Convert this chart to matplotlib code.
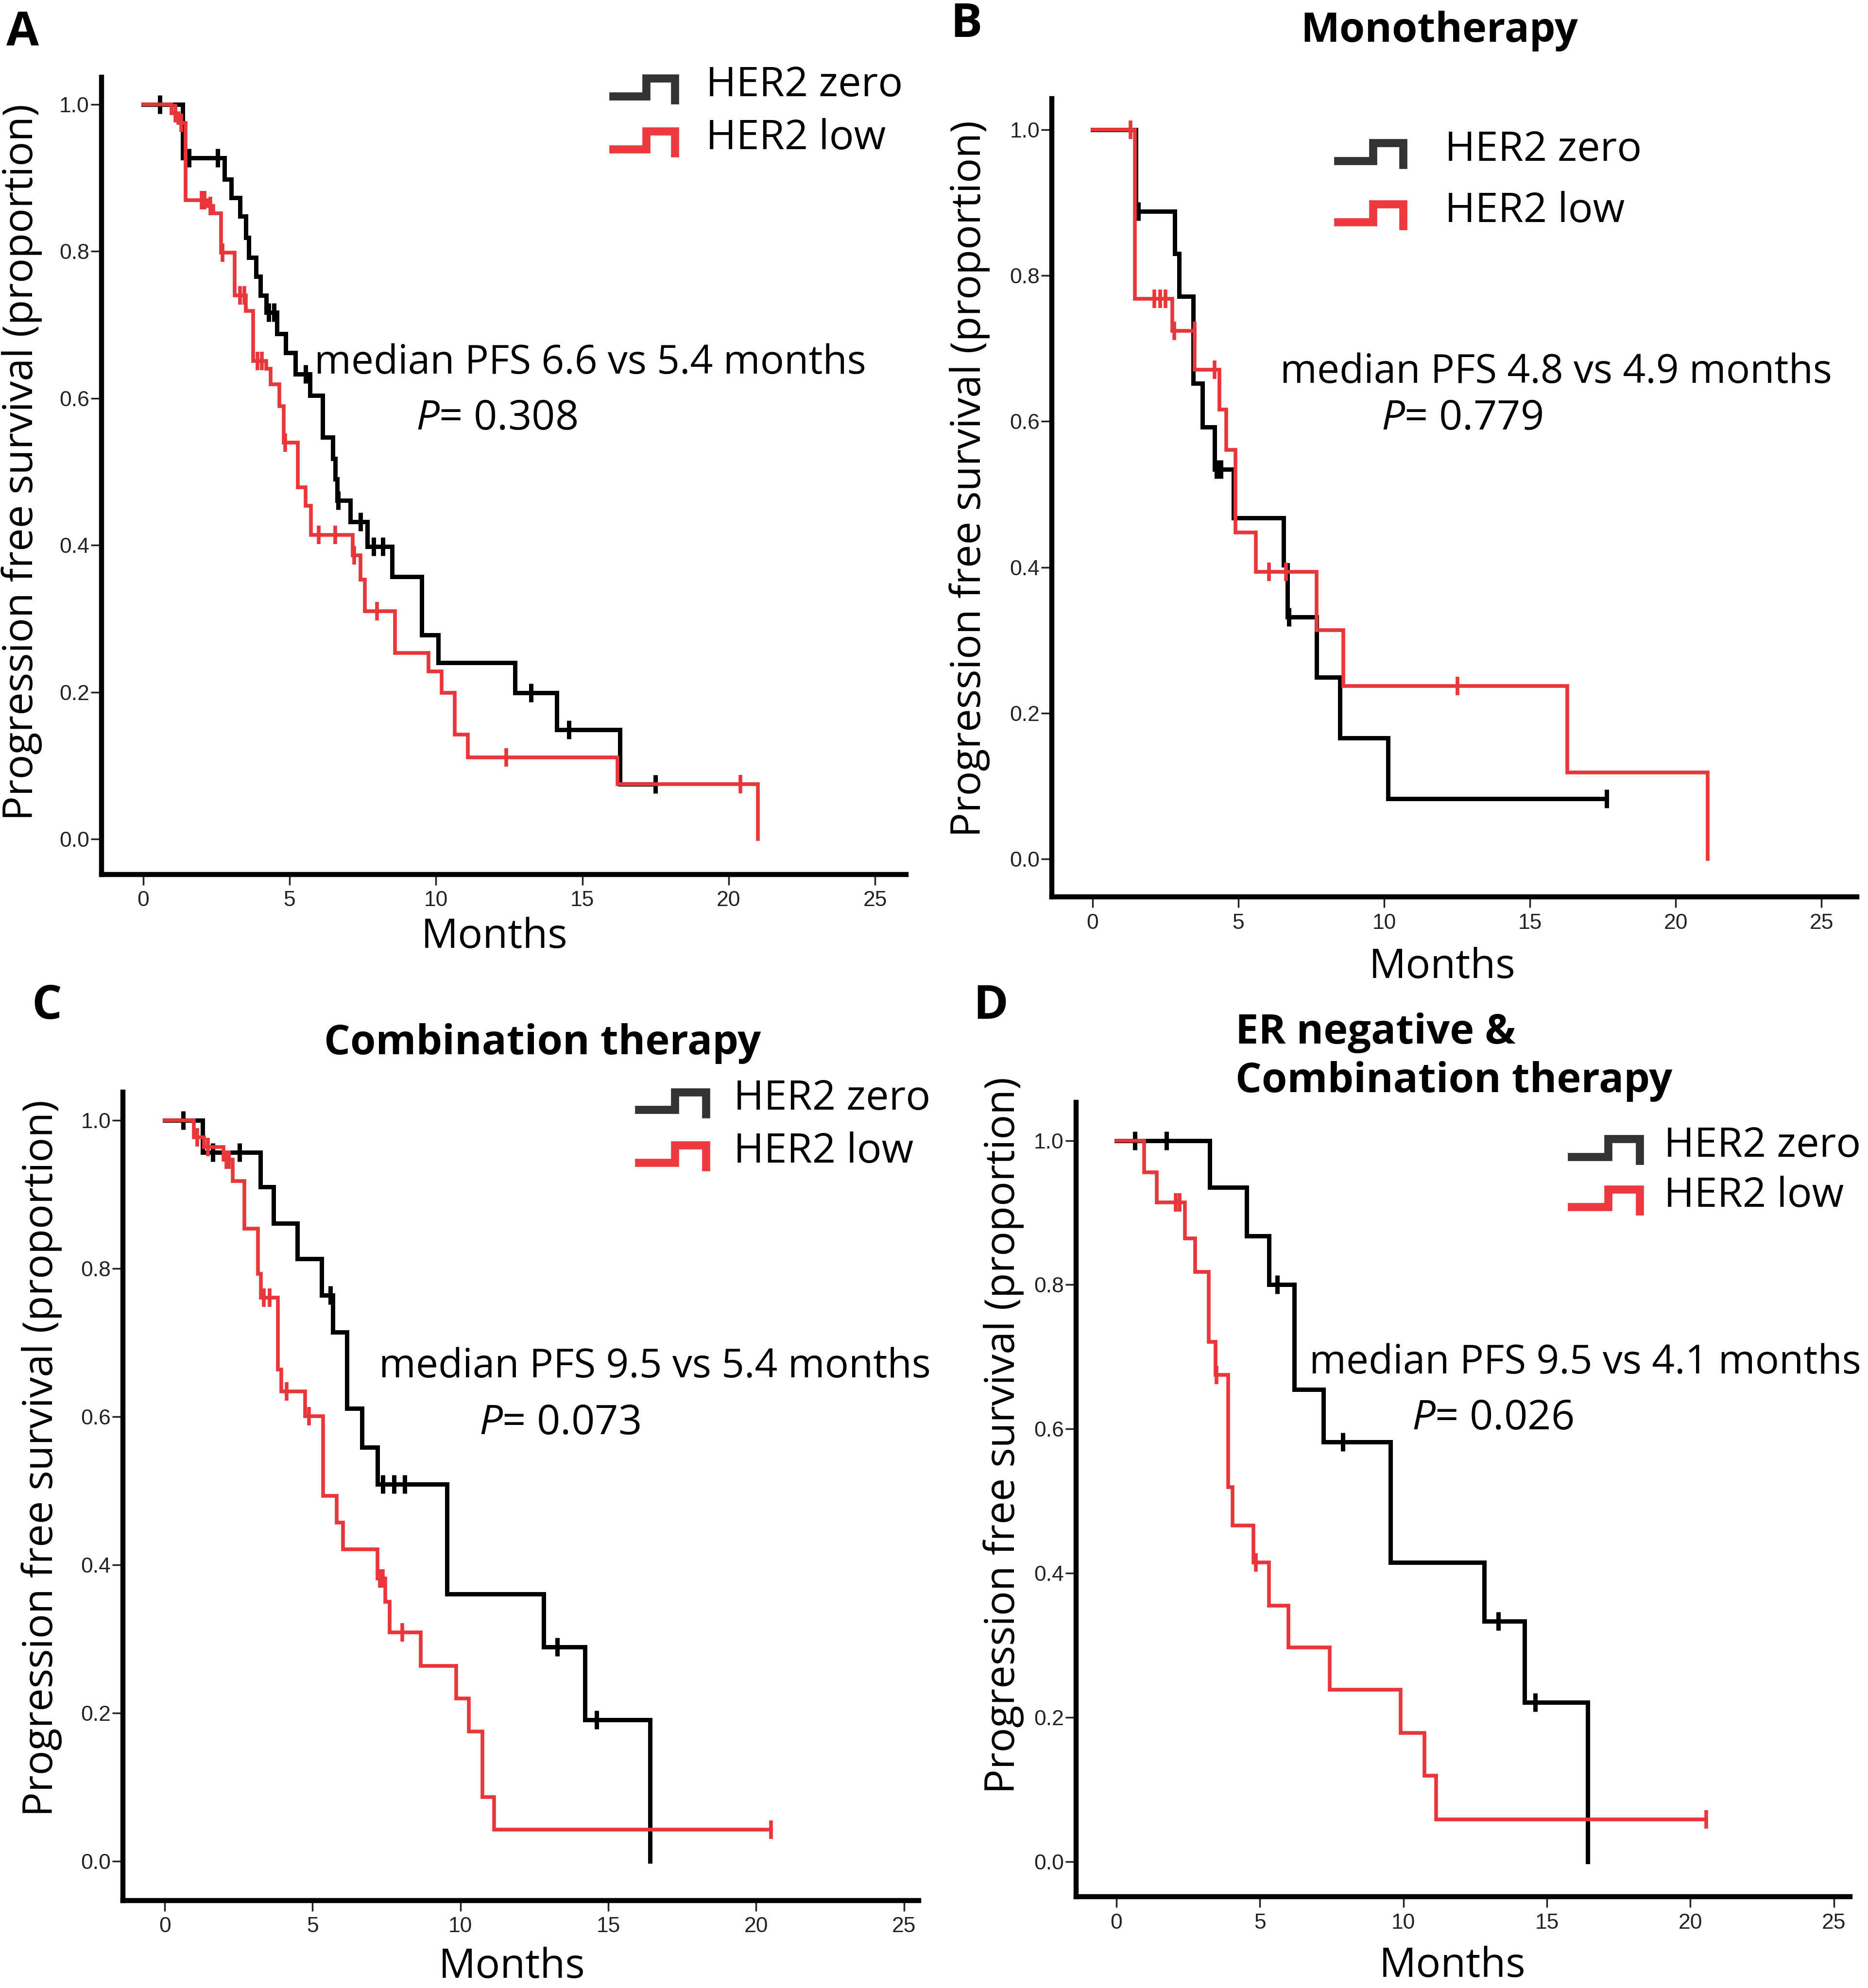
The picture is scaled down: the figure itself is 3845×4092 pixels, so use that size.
import numpy as np
import matplotlib
matplotlib.use("Agg")
import matplotlib.pyplot as plt
from matplotlib.lines import Line2D
from matplotlib.legend_handler import HandlerBase

plt.rcParams['font.family'] = ['Open Sans', 'DejaVu Sans']
plt.rcParams['mathtext.fontset'] = 'custom'
plt.rcParams['mathtext.rm'] = 'Open Sans'
plt.rcParams['mathtext.it'] = 'Open Sans:italic'

BLACK = '#000000'
RED = '#e8363b'
KEY_BLACK = '#333333'
KEY_RED = '#ee3a3e'

# ---- data (months, survival proportion after each event, censor times) ----
# A: all patients
a_zero_t = [1.34, 2.77, 3.0, 3.3, 3.5, 3.6, 3.85, 4.0, 4.2, 4.56, 4.87, 5.2, 5.69,
            6.12, 6.48, 6.55, 6.62, 7.07, 7.66, 8.5, 9.52, 10.07, 12.7, 14.13, 16.28]
a_zero_s = [0.927, 0.898, 0.873, 0.848, 0.819, 0.792, 0.766, 0.740, 0.717, 0.688, 0.662,
            0.633, 0.604, 0.547, 0.518, 0.490, 0.461, 0.432, 0.398, 0.357, 0.278, 0.240,
            0.199, 0.149, 0.075]
a_zero_c = [0.57, 1.57, 2.54, 4.29, 4.47, 5.55, 6.66, 7.42, 7.87, 8.19, 13.24, 14.54, 17.5]

a_low_t = [0.97, 1.2, 1.45, 2.2, 2.4, 2.65, 3.13, 3.5, 3.75, 4.2, 4.35, 4.65, 4.8, 5.28,
           5.55, 5.72, 7.16, 7.42, 7.57, 8.6, 9.75, 10.2, 10.64, 11.09, 16.2, 21.0]
a_low_s = [0.988, 0.975, 0.870, 0.862, 0.852, 0.798, 0.740, 0.719, 0.651, 0.640, 0.619,
           0.589, 0.540, 0.479, 0.454, 0.414, 0.386, 0.353, 0.310, 0.253, 0.228, 0.199,
           0.142, 0.111, 0.075, 0.0]
a_low_c = [1.1, 1.3, 2.0, 2.1, 2.3, 2.7, 3.3, 3.45, 3.9, 4.05, 4.85, 6.0, 6.55, 7.2,
           7.98, 12.4, 20.4]

# B: monotherapy
b_zero_t = [1.49, 2.83, 2.98, 3.46, 3.78, 4.18, 4.84, 6.55, 6.69, 7.68, 8.48, 10.13]
b_zero_s = [0.888, 0.830, 0.771, 0.652, 0.592, 0.534, 0.468, 0.403, 0.332, 0.249, 0.166, 0.083]
b_zero_c = [1.58, 4.26, 4.4, 6.74, 17.63]

b_low_t = [1.45, 2.74, 3.51, 4.36, 4.59, 4.9, 5.61, 7.68, 8.6, 16.28, 21.09]
b_low_s = [0.768, 0.724, 0.671, 0.616, 0.561, 0.448, 0.394, 0.314, 0.237, 0.119, 0.0]
b_low_c = [1.31, 2.12, 2.33, 2.51, 2.8, 3.5, 4.18, 6.06, 6.64, 12.52]

# C: combination therapy
c_zero_t = [1.28, 3.23, 3.68, 4.48, 5.31, 5.68, 6.16, 6.66, 7.19, 9.54, 12.82, 14.21, 16.41]
c_zero_s = [0.957, 0.910, 0.861, 0.813, 0.764, 0.714, 0.611, 0.559, 0.509, 0.361, 0.289,
            0.191, 0.0]
c_zero_c = [0.62, 1.63, 2.52, 5.6, 7.37, 7.76, 8.12, 13.27, 14.6]

c_low_t = [0.98, 1.33, 1.99, 2.29, 2.7, 3.15, 3.25, 3.82, 3.94, 4.74, 5.36, 5.81, 6.02,
           7.2, 7.45, 7.6, 8.65, 9.86, 10.28, 10.75, 11.14]
c_low_s = [0.977, 0.964, 0.947, 0.918, 0.854, 0.793, 0.761, 0.664, 0.634, 0.601, 0.493,
           0.457, 0.421, 0.382, 0.350, 0.309, 0.264, 0.220, 0.175, 0.087, 0.043]
c_low_c = [1.1, 1.46, 2.08, 2.17, 3.35, 3.55, 4.12, 4.87, 7.28, 7.38, 8.03, 20.5]

# D: ER negative & combination therapy
d_zero_t = [3.25, 4.53, 5.32, 6.2, 7.21, 9.54, 12.81, 14.22, 16.42]
d_zero_s = [0.935, 0.868, 0.800, 0.655, 0.582, 0.415, 0.333, 0.221, 0.0]
d_zero_c = [0.65, 1.75, 5.6, 7.89, 13.3, 14.59]

d_low_t = [0.97, 1.41, 2.39, 2.75, 3.21, 3.45, 3.89, 4.04, 4.77, 5.32, 6.0, 7.43, 9.91,
           10.73, 11.14]
d_low_s = [0.956, 0.914, 0.864, 0.818, 0.721, 0.675, 0.519, 0.466, 0.415, 0.355, 0.297,
           0.238, 0.178, 0.119, 0.058]
d_low_c = [2.07, 2.2, 3.49, 4.86, 20.55]

panels = {
    'A': dict(title=None, pfs='median PFS 6.6 vs 5.4 months', p='0.308',
              zero=(a_zero_t, a_zero_s, a_zero_c), low=(a_low_t, a_low_s, a_low_c)),
    'B': dict(title='Monotherapy', pfs='median PFS 4.8 vs 4.9 months', p='0.779',
              zero=(b_zero_t, b_zero_s, b_zero_c), low=(b_low_t, b_low_s, b_low_c)),
    'C': dict(title='Combination therapy', pfs='median PFS 9.5 vs 5.4 months', p='0.073',
              zero=(c_zero_t, c_zero_s, c_zero_c), low=(c_low_t, c_low_s, c_low_c)),
    'D': dict(title='ER negative &\nCombination therapy', pfs='median PFS 9.5 vs 4.1 months',
              p='0.026', zero=(d_zero_t, d_zero_s, d_zero_c), low=(d_low_t, d_low_s, d_low_c)),
}

# ---- layout, in pixels of a 1474 x 1569 reference grid ----
REF_W, REF_H = 1474, 1569


def fpos(x, y):
    return x / REF_W, 1 - y / REF_H


layout = {
    'A': dict(box=(80, 61, 715, 690), xlim=(-1.43, 26.06), ylim=(-0.048, 1.037),
              letter=(5, 36), title=None,
              ylab=(17, 365), xlab=(390, 748),
              txt=(248, 295), ptxt=(328, 339),
              leg=(479, 76, 42, 58, 20)),
    'B': dict(box=(830, 78, 1465, 708), xlim=(-1.39, 26.2), ylim=(-0.052, 1.042),
              letter=(750, 29), title=(1136, 33, 'center'),
              ylab=(765, 378), xlab=(1138, 772),
              txt=(1010, 302), ptxt=(1090, 339),
              leg=(1051, 127, 48.5, 61, 28)),
    'C': dict(box=(97, 862, 725, 1500), xlim=(-1.415, 25.5), ylim=(-0.053, 1.038),
              letter=(25, 804), title=(428, 832, 'center'),
              ylab=(33, 1151), xlab=(404, 1561),
              txt=(299, 1087), ptxt=(378, 1132),
              leg=(499, 876, 42, 63, 17)),
    'D': dict(box=(849, 870, 1460, 1497), xlim=(-1.41, 25.57), ylim=(-0.049, 1.053),
              letter=(768, 804), title=(975, 862, 'left'),
              ylab=(792, 1133), xlab=(1146, 1560),
              txt=(1033, 1084), ptxt=(1114, 1128),
              leg=(1235, 913, 40, 64, 14)),
}

FS_TXT = 59
FS_LEG = 61
EM = FS_LEG * 100 / 72 * REF_W / 3845  # legend font size in reference pixels


class StepKey(HandlerBase):
    def create_artists(self, legend, orig_handle, xdescent, ydescent, width, height,
                       fontsize, trans):
        xs = np.array([0.08, 0.53, 0.53, 0.92, 0.92]) * width - xdescent
        ys = np.array([0.0, 0.0, 0.43, 0.43, -0.1]) * fontsize
        ln = Line2D(xs, ys, color=orig_handle.get_color(), lw=12,
                    solid_joinstyle='miter', solid_capstyle='projecting',
                    transform=trans)
        return [ln]


def km_curve(ax, t, s, c, color, lw, zorder):
    x = np.r_[0.0, t]
    y = np.r_[1.0, s]
    end = max(x[-1], max(c))
    ax.step(np.r_[x, end], np.r_[y, y[-1]], where='post', color=color, lw=lw,
            zorder=zorder, solid_joinstyle='miter')
    cy = y[np.searchsorted(x, c, side='right') - 1]
    ax.plot(c, cy, ls='none', marker='|', ms=28, mew=lw, color=color, zorder=zorder)


fig = plt.figure(figsize=(38.45, 40.92), dpi=100)

for key, p in panels.items():
    L = layout[key]
    l, t, r, b = L['box']
    x0, y1 = fpos(l, t)
    x1, y0 = fpos(r, b)
    ax = fig.add_axes([x0, y0, x1 - x0, y1 - y0])

    km_curve(ax, *p['zero'], BLACK, 6.5, 3)
    km_curve(ax, *p['low'], RED, 5.5, 4)

    ax.set_xlim(*L['xlim'])
    ax.set_ylim(*L['ylim'])
    ax.set_xticks([0, 5, 10, 15, 20, 25])
    ax.set_yticks([0, 0.2, 0.4, 0.6, 0.8, 1.0])
    ax.set_yticklabels(['0.0', '0.2', '0.4', '0.6', '0.8', '1.0'])
    for side in ['top', 'right']:
        ax.spines[side].set_visible(False)
    for side in ['left', 'bottom']:
        ax.spines[side].set_linewidth(7.5)
    ax.tick_params(direction='out', length=16, width=2.5, labelsize=32,
                   labelcolor='#222222', color='#222222')
    ax.tick_params(axis='x', pad=8)
    ax.tick_params(axis='y', pad=2)
    for lab in ax.get_xticklabels() + ax.get_yticklabels():
        lab.set_family(['Liberation Sans Narrow', 'Liberation Sans'])

    # legend with step-shaped keys
    lx, lbase, lspace, lwid, lgap = L['leg']
    keys = [Line2D([], [], color=KEY_BLACK), Line2D([], [], color=KEY_RED)]
    ax.legend(keys, ['HER2 zero', 'HER2 low'], handler_map={Line2D: StepKey()},
              loc='upper left', bbox_to_anchor=fpos(lx, lbase - 0.76 * EM),
              bbox_transform=fig.transFigure, frameon=False, fontsize=FS_LEG,
              borderpad=0, borderaxespad=0, handlelength=lwid / EM,
              handletextpad=lgap / EM, labelspacing=(lspace - 1.0 * EM) / EM)

    # texts
    fig.text(*fpos(*L['txt']), p['pfs'], fontsize=FS_TXT, ha='left', va='baseline')
    fig.text(*fpos(*L['ptxt']), r'$\mathit{P}$= ' + p['p'], fontsize=FS_TXT + 2,
             ha='left', va='baseline')
    fig.text(*fpos(*L['letter']), key, fontsize=70, fontweight='bold', ha='left',
             va='baseline')
    if L['title'] is not None:
        tx, ty, ha = L['title']
        fig.text(*fpos(tx, ty), p['title'], fontsize=61, fontweight='bold', ha=ha,
                 va='baseline', linespacing=1.25)
    fig.text(*fpos(*L['ylab']), 'Progression free survival (proportion)', fontsize=61,
             rotation=90, ha='center', va='center')
    fig.text(*fpos(*L['xlab']), 'Months', fontsize=61, ha='center', va='baseline')

fig.savefig('out.png', dpi=100)
